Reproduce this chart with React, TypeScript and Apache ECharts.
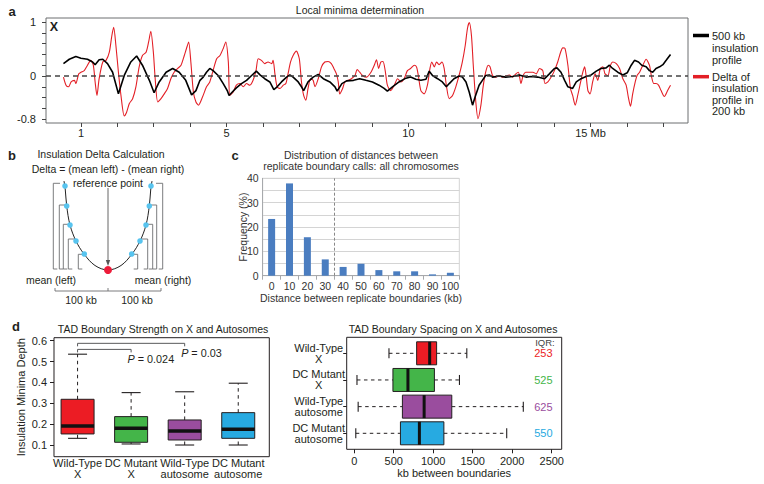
import { useEffect, useRef } from 'react';
import * as echarts from 'echarts';

const FONT = '"Liberation Sans", Arial, Helvetica, sans-serif';
const INK = '#231f20';

// ---------- Panel a: insulation profiles along chrX (Mb, value) ----------
const insulationProfile500kb: [number, number][] = [
  [0.52, 0.23], [0.68, 0.31], [0.86, 0.36], [1.0, 0.33], [1.18, 0.31], [1.32, 0.26], [1.39, 0.21], [1.5, 0.3],
  [1.6, 0.31], [1.73, 0.23], [1.87, 0.07], [2.03, -0.33], [2.19, 0.01], [2.37, 0.26], [2.53, 0.37], [2.69, 0.2],
  [2.88, -0.08], [3.01, -0.31], [3.15, -0.11], [3.34, 0.07], [3.52, 0.14], [3.7, 0.07], [3.88, -0.08], [4.04, -0.35],
  [4.16, -0.27], [4.27, -0.08], [4.36, -0.02], [4.45, 0.07], [4.54, 0.14], [4.63, 0.1], [4.77, 0.01], [4.91, -0.14],
  [5.02, -0.27], [5.07, -0.36], [5.14, -0.31], [5.27, -0.22], [5.41, -0.14], [5.55, -0.08], [5.69, 0.01], [5.82, 0.09],
  [5.92, 0.02], [6.05, -0.05], [6.19, -0.11], [6.3, -0.25], [6.39, -0.2], [6.51, -0.11], [6.65, -0.02], [6.74, 0.02],
  [6.83, -0.02], [6.97, -0.11], [7.06, -0.2], [7.12, -0.27], [7.24, -0.11], [7.38, -0.02], [7.52, 0.03], [7.66, -0.05],
  [7.84, -0.11], [7.98, -0.2], [8.04, -0.28], [8.17, -0.14], [8.3, -0.09], [8.49, -0.08], [8.66, -0.05], [8.83, -0.08],
  [9.01, -0.11], [9.19, -0.17], [9.33, -0.23], [9.42, -0.28], [9.56, -0.2], [9.74, -0.11], [9.93, -0.04], [10.06, -0.02],
  [10.2, -0.06], [10.34, -0.08], [10.48, -0.06], [10.57, 0.09], [10.66, 0.01], [10.8, -0.05], [10.93, -0.11], [11.04, -0.2],
  [11.12, -0.14], [11.25, -0.05], [11.39, 0], [11.48, -0.02], [11.58, -0.11], [11.67, -0.3], [11.76, -0.54], [11.83, -0.39],
  [11.94, -0.17], [12.03, -0.08], [12.12, 0.01], [12.22, 0.02], [12.31, -0.02], [12.49, 0], [12.67, -0.02], [12.86, -0.01],
  [13.04, 0.02], [13.23, -0.02], [13.37, -0.01], [13.55, -0.02], [13.74, -0.05], [13.87, 0.04], [14.01, 0.14], [14.08, 0.15],
  [14.19, 0.07], [14.29, -0.08], [14.38, -0.2], [14.51, -0.23], [14.61, -0.11], [14.74, -0.05], [14.88, -0.01], [15.02, 0.02],
  [15.16, 0.09], [15.29, 0.14], [15.43, 0.15], [15.52, 0.2], [15.61, 0.14], [15.75, 0.07], [15.89, 0.02], [16.01, 0.06],
  [16.12, 0.2], [16.21, 0.29], [16.32, 0.26], [16.41, 0.2], [16.53, 0.17], [16.62, 0.1], [16.71, 0.07], [16.8, 0.14],
  [16.9, 0.17], [16.99, 0.21], [17.08, 0.29], [17.2, 0.4],
];

const insulationDelta200kb: [number, number][] = [
  [0.52, -0.02], [0.59, -0.17], [0.66, -0.2], [0.73, -0.11], [0.82, -0.08], [0.86, -0.14], [0.94, 0.04], [1.0, 0.07],
  [1.09, 0.1], [1.18, 0.2], [1.27, 0.29], [1.34, 0.2], [1.39, -0.11], [1.44, -0.36], [1.5, -0.05], [1.6, 0.26],
  [1.69, 0.29], [1.78, 0.44], [1.85, 0.75], [1.9, 0.9], [1.96, 0.57], [2.03, 0.07], [2.1, -0.36], [2.19, -0.74],
  [2.25, -0.68], [2.33, -0.51], [2.42, -0.42], [2.51, -0.2], [2.6, 0.17], [2.69, 0.38], [2.79, 0.44], [2.86, 0.63],
  [2.92, 0.83], [2.99, 0.44], [3.04, -0.05], [3.11, -0.48], [3.2, -0.42], [3.29, -0.33], [3.38, -0.23], [3.47, -0.05],
  [3.56, 0.07], [3.66, 0.14], [3.75, 0.2], [3.84, 0.38], [3.9, 0.51], [3.96, 0.63], [4.02, 0.26], [4.09, -0.3],
  [4.16, -0.48], [4.23, -0.54], [4.34, -0.39], [4.45, -0.2], [4.54, -0.11], [4.63, 0.1], [4.73, 0.32], [4.82, 0.38],
  [4.91, 0.51], [4.98, 0.63], [5.05, 0.26], [5.09, -0.36], [5.18, -0.3], [5.27, -0.17], [5.37, -0.14], [5.46, -0.2],
  [5.55, -0.14], [5.64, -0.17], [5.73, -0.08], [5.81, 0.1], [5.87, 0.32], [5.96, 0.29], [6.05, 0.23], [6.14, 0.26],
  [6.24, 0.23], [6.28, 0.29], [6.33, 0.04], [6.39, -0.2], [6.47, -0.23], [6.56, -0.17], [6.63, -0.14], [6.69, 0.04],
  [6.76, 0.26], [6.83, 0.38], [6.92, 0.46], [7.0, 0.32], [7.06, -0.11], [7.12, -0.36], [7.18, -0.45], [7.24, -0.23],
  [7.31, -0.05], [7.38, -0.08], [7.43, -0.2], [7.52, -0.05], [7.61, 0.17], [7.7, 0.26], [7.79, 0.27], [7.88, 0.23],
  [7.95, 0.14], [8.02, 0.04], [8.07, -0.11], [8.11, -0.33], [8.19, -0.23], [8.25, -0.11], [8.34, -0.08], [8.43, -0.05],
  [8.53, 0.01], [8.59, 0.12], [8.66, 0.07], [8.75, 0], [8.85, -0.02], [8.97, 0.07], [9.06, 0.2], [9.12, 0.3],
  [9.18, 0.14], [9.24, 0.26], [9.3, 0.27], [9.36, 0.1], [9.42, -0.17], [9.51, -0.27], [9.61, -0.17], [9.7, -0.05],
  [9.79, -0.11], [9.88, -0.05], [9.97, 0.1], [10.06, 0.14], [10.16, 0.2], [10.22, 0.17], [10.27, 0.01], [10.34, -0.27],
  [10.43, -0.33], [10.52, -0.17], [10.59, 0.14], [10.64, 0.26], [10.71, 0.17], [10.77, 0.26], [10.84, 0.21], [10.92, 0.26],
  [10.98, 0.14], [11.04, -0.17], [11.12, -0.42], [11.21, -0.36], [11.3, -0.2], [11.39, 0.01], [11.48, 0.26], [11.56, 0.57],
  [11.62, 0.88], [11.67, 0.99], [11.73, 0.75], [11.78, 0.2], [11.85, -0.48], [11.91, -0.79], [11.99, -0.54], [12.05, -0.2],
  [12.12, 0.07], [12.19, 0.2], [12.24, 0.17], [12.31, 0.01], [12.4, -0.02], [12.49, 0.01], [12.58, -0.02], [12.67, 0],
  [12.77, 0.02], [12.86, -0.02], [12.95, 0.04], [13.02, 0.07], [13.09, -0.14], [13.15, 0.01], [13.22, 0.07], [13.28, 0.07],
  [13.42, 0.07], [13.51, 0.04], [13.6, 0.14], [13.69, 0.1], [13.75, -0.14], [13.83, -0.11], [13.92, -0.02], [14.01, 0.1],
  [14.1, 0.26], [14.18, 0.44], [14.24, 0.52], [14.3, 0.51], [14.38, 0.2], [14.45, -0.23], [14.51, -0.36], [14.58, -0.54],
  [14.65, -0.36], [14.73, -0.11], [14.79, 0.07], [14.84, 0.17], [14.88, 0.01], [14.93, -0.27], [14.99, -0.33], [15.06, -0.11],
  [15.13, 0.04], [15.2, -0.08], [15.27, 0.14], [15.34, 0.17], [15.4, 0.04], [15.48, 0.01], [15.55, 0.2], [15.61, 0.26],
  [15.71, 0.23], [15.8, 0.14], [15.89, -0.05], [15.98, -0.17], [16.04, -0.39], [16.1, -0.56], [16.16, -0.33], [16.23, -0.11],
  [16.28, 0.01], [16.35, 0.07], [16.44, 0.2], [16.53, 0.31], [16.62, 0.2], [16.68, -0.02], [16.74, -0.14], [16.8, -0.14],
  [16.87, -0.17], [16.94, -0.27], [17.03, -0.38], [17.12, -0.27], [17.2, -0.17],
];

const mbTicks = [1, 2, 3, 4, 5, 6, 7, 8, 9, 10, 11, 12, 13, 14, 15, 16, 17];
const mbLabels = [1, 5, 10, 15];
const insulationTicks = [-0.8, -0.6, -0.4, -0.2, 0, 0.2, 0.4, 0.6, 0.8, 1];
const insulationLabels = [-0.8, 0, 1];

// ---------- Panel c ----------
const distanceCategories = ['0', '10', '20', '30', '40', '50', '60', '70', '80', '90', '100'];
const distanceFrequency = [23.3, 37.9, 15.8, 6.7, 3.6, 4.9, 2.3, 1.8, 1.8, 0.55, 1.2];
const distanceBinEdges = [-0.5, 0.5, 1.5, 2.5, 3.5, 4.5, 5.5, 6.5, 7.5, 8.5, 9.5, 10.5];
const distanceCutoff = 3.5;

// ---------- Panel d ----------
const groupLabels = ['Wild-Type\nX', 'DC Mutant\nX', 'Wild-Type\nautosome', 'DC Mutant\nautosome'];
const groupColors = ['#ec1c24', '#44b549', '#9a4d9e', '#27aae1'];
const strengthTicks = [0.1, 0.2, 0.3, 0.4, 0.5, 0.6];
// [low whisker, Q1, median, Q3, high whisker]
const strengthStats = [
  [0.132, 0.153, 0.191, 0.319, 0.535],
  [0.105, 0.113, 0.18, 0.236, 0.351],
  [0.1, 0.124, 0.167, 0.22, 0.355],
  [0.1, 0.132, 0.175, 0.255, 0.396],
];
const pComparisons = [[1, 3], [1, 2]];
const pValues = ['0.03', '0.024'];
const spacingTicks = [0, 500, 1000, 1500, 2000, 2500];
const spacingStats = [
  [440, 790, 955, 1043, 1425],
  [35, 490, 680, 1015, 1332],
  [50, 610, 885, 1235, 2140],
  [20, 585, 825, 1135, 1930],
];
const spacingIQR = ['253', '525', '625', '550'];

const txt = (text: string, x: number, y: number, extra: any = {}) => ({
  type: 'text',
  x,
  y,
  silent: true,
  style: {
    text,
    fill: INK,
    fontSize: 10.5,
    fontFamily: FONT,
    align: 'center',
    verticalAlign: 'middle',
    ...extra,
  },
});

const seg = (x1: number, y1: number, x2: number, y2: number, style: any) => ({
  type: 'line',
  silent: true,
  shape: { x1, y1, x2, y2 },
  style,
});

function makeBoxRender(horizontal: boolean, half: number, capHalf: number, medianWidth: number) {
  return (params: any, api: any) => {
    const pos = api.value(0);
    const vals = [1, 2, 3, 4, 5].map((k) => api.value(k));
    const pt = (v: number) => (horizontal ? api.coord([v, pos]) : api.coord([pos, v]));
    const [pLow, pQ1, pMed, pQ3, pHigh] = vals.map(pt);
    const color = groupColors[params.dataIndex];
    const whisk = { stroke: INK, lineWidth: 1, lineDash: [3.5, 3.5] };
    const solid = { stroke: INK, lineWidth: 1.1 };
    let children: any[];
    if (horizontal) {
      const c = pMed[1];
      children = [
        seg(pLow[0], c, pQ1[0], c, whisk),
        seg(pQ3[0], c, pHigh[0], c, whisk),
        seg(pLow[0], c - capHalf, pLow[0], c + capHalf, solid),
        seg(pHigh[0], c - capHalf, pHigh[0], c + capHalf, solid),
        {
          type: 'rect',
          shape: { x: pQ1[0], y: c - half, width: pQ3[0] - pQ1[0], height: 2 * half },
          style: { fill: color, stroke: INK, lineWidth: 1 },
        },
        seg(pMed[0], c - half, pMed[0], c + half, { stroke: '#111', lineWidth: medianWidth }),
      ];
    } else {
      const c = pMed[0];
      children = [
        seg(c, pQ3[1], c, pHigh[1], whisk),
        seg(c, pLow[1], c, pQ1[1], whisk),
        seg(c - capHalf, pHigh[1], c + capHalf, pHigh[1], solid),
        seg(c - capHalf, pLow[1], c + capHalf, pLow[1], solid),
        {
          type: 'rect',
          shape: { x: c - half, y: pQ3[1], width: 2 * half, height: pQ1[1] - pQ3[1] },
          style: { fill: color, stroke: INK, lineWidth: 1 },
        },
        seg(c - half, pMed[1], c + half, pMed[1], { stroke: '#111', lineWidth: medianWidth }),
      ];
    }
    return { type: 'group', children };
  };
}

function panelBGraphic(): any[] {
  const els: any[] = [];
  const cx = 108;
  const bottom = 270;
  const left = [[64, 181], [65.3, 190], [66.7, 206], [70, 225], [76, 241], [84, 254], [95, 265.5], [cx, bottom]];
  const right = left.slice(0, -1).reverse().map(([x, y]) => [2 * cx - x, y]);
  els.push({ type: 'polyline', silent: true, shape: { points: [...left, ...right], smooth: 0.35 }, style: { stroke: '#222', lineWidth: 1, fill: 'none' } });
  const br = [
    [53.3, 183.3, 60],
    [59.3, 205, 65],
    [63.3, 224.3, 68.3],
    [68.3, 239, 75],
    [78.3, 254.3, 83.3],
  ];
  const bStyle = { stroke: '#6d6e71', lineWidth: 0.9, fill: 'none' };
  br.forEach(([xv, yt, xe]) => {
    els.push({ type: 'polyline', silent: true, shape: { points: [[xe, yt], [xv, yt], [xv, 269], [xv + 4, 269]] }, style: bStyle });
    const rxv = 2 * cx - xv;
    const rxe = 2 * cx - xe;
    els.push({ type: 'polyline', silent: true, shape: { points: [[rxe, yt], [rxv, yt], [rxv, 269], [rxv - 4, 269]] }, style: bStyle });
  });
  const dots = [[65, 186], [66.7, 206], [70, 225], [76, 241], [84.3, 254]];
  dots.forEach(([x, y]) => {
    els.push({ type: 'circle', silent: true, shape: { cx: x, cy: y, r: 2.8 }, style: { fill: '#58c4ef' } });
    els.push({ type: 'circle', silent: true, shape: { cx: 2 * cx - x, cy: y, r: 2.8 }, style: { fill: '#58c4ef' } });
  });
  els.push(seg(cx, 188, cx, 261, { stroke: '#555', lineWidth: 0.9 }));
  els.push({ type: 'polygon', silent: true, shape: { points: [[cx - 2.2, 260], [cx + 2.2, 260], [cx, 266]] }, style: { fill: '#555' } });
  els.push({ type: 'circle', silent: true, shape: { cx, cy: bottom, r: 4 }, style: { fill: '#ed1c3a' } });
  els.push(txt('b', 12, 155, { fontSize: 13, fontWeight: 'bold' }));
  els.push(txt('Insulation Delta Calculation', 101, 154));
  els.push(txt('Delta = (mean left) - (mean right)', 108, 169));
  els.push(txt('reference point', 108, 183));
  els.push(txt('mean (left)', 51, 280));
  els.push(txt('mean (right)', 163, 280));
  const sb = { stroke: '#6d6e71', lineWidth: 0.9 };
  els.push(seg(55, 291, 161, 291, sb));
  els.push(seg(55, 291, 55, 288, sb));
  els.push(seg(cx, 291, cx, 288, sb));
  els.push(seg(161, 291, 161, 288, sb));
  els.push(txt('100 kb', 81, 300));
  els.push(txt('100 kb', 137, 300));
  return els;
}

function buildOption(): any {
  const axisText = { color: INK, fontSize: 11, fontFamily: FONT };
  const graphic: any[] = [
    txt('a', 12, 11, { fontSize: 13, fontWeight: 'bold' }),
    txt('Local minima determination', 360, 10),
    txt('X', 54, 27, { fontSize: 12.5, fontWeight: 'bold' }),
    seg(693, 35.5, 709, 35.5, { stroke: '#000', lineWidth: 3.5 }),
    txt('500 kb\ninsulation\nprofile', 712, 30.5, { align: 'left', verticalAlign: 'top', fontSize: 11, lineHeight: 11.6 }),
    seg(693, 76.7, 709, 76.7, { stroke: '#e31f26', lineWidth: 3.5 }),
    txt('Delta of\ninsulation\nprofile in\n200 kb', 712, 71.5, { align: 'left', verticalAlign: 'top', fontSize: 11, lineHeight: 11.2 }),
    ...panelBGraphic(),
    txt('c', 235, 155, { fontSize: 13, fontWeight: 'bold' }),
    txt('Distribution of distances between\nreplicate boundary calls: all chromosomes', 361, 160.7, { lineHeight: 11.5, fill: '#333' }),
    txt('d', 16, 326, { fontSize: 13, fontWeight: 'bold' }),
    txt('TAD Boundary Strength on X and Autosomes', 163, 329),
    txt('TAD Boundary Spacing on X and Autosomes', 453, 329),
    txt('IQR:', 545, 342.3, { fontSize: 9.5, fill: '#444' }),
  ];

  return {
    animation: false,
    textStyle: { fontFamily: FONT },
    grid: [
      { left: 46, top: 18, width: 642, height: 105, show: true, borderColor: '#6d6e71', borderWidth: 1, backgroundColor: 'transparent' },
      { left: 262.7, top: 178.3, width: 196.6, height: 97.4, show: true, borderColor: '#d4d4d4', borderWidth: 1, backgroundColor: 'transparent' },
      { left: 54, top: 337.7, width: 215.3, height: 119, show: true, borderColor: INK, borderWidth: 1, backgroundColor: 'transparent' },
      { left: 346.7, top: 337.3, width: 215, height: 112, show: true, borderColor: INK, borderWidth: 1, backgroundColor: 'transparent' },
    ],
    xAxis: [
      {
        gridIndex: 0, type: 'value', min: 0.04, max: 17.68,
        axisLine: { show: false, onZero: false },
        axisTick: { show: true, customValues: mbTicks, length: 4, lineStyle: { color: '#444' } },
        axisLabel: { customValues: mbLabels, margin: 4, ...axisText, formatter: (v: number) => (v === 15 ? '15 Mb' : String(v)) },
        splitLine: { show: false },
      },
      {
        gridIndex: 1, type: 'value', min: -0.5, max: 10.5,
        axisLine: { show: true, onZero: false, lineStyle: { color: '#a7a9ac' } },
        axisTick: { show: true, customValues: distanceBinEdges, length: 4, lineStyle: { color: '#a7a9ac' } },
        axisLabel: { customValues: distanceCategories.map((_, i) => i), margin: 4.5, color: '#333', fontSize: 10.5, formatter: (v: number) => distanceCategories[Math.round(v)] },
        splitLine: { show: false },
        name: 'Distance between replicate boundaries (kb)', nameLocation: 'middle', nameGap: 17, nameMoveOverlap: false,
        nameTextStyle: { color: '#333', fontSize: 10.5 },
      },
      {
        gridIndex: 2, type: 'value', min: 0.56, max: 4.58,
        axisLine: { show: false, onZero: false }, axisTick: { show: false },
        axisLabel: { customValues: [1, 2, 3, 4], margin: 1, ...axisText, lineHeight: 11, formatter: (v: number) => groupLabels[Math.round(v) - 1] },
        splitLine: { show: false },
      },
      {
        gridIndex: 3, type: 'value', min: -95, max: 2626,
        axisLine: { show: false, onZero: false },
        axisTick: { show: true, customValues: spacingTicks, length: 4, lineStyle: { color: INK } },
        axisLabel: { customValues: spacingTicks, margin: 6.5, ...axisText, formatter: (v: number) => String(v) },
        splitLine: { show: false },
        name: 'kb between boundaries', nameLocation: 'middle', nameGap: 18, nameMoveOverlap: false,
        nameTextStyle: { color: INK, fontSize: 11 },
      },
    ],
    yAxis: [
      {
        gridIndex: 0, type: 'value', min: -0.87, max: 1.074,
        axisLine: { show: false, onZero: false },
        axisTick: { show: true, customValues: insulationTicks, length: 4, lineStyle: { color: '#444' } },
        axisLabel: { customValues: insulationLabels, margin: 10, ...axisText, formatter: (v: number) => String(v) },
        splitLine: { show: false },
      },
      {
        gridIndex: 1, type: 'value', min: 0, max: 40, interval: 5,
        axisLine: { show: true, onZero: false, lineStyle: { color: '#a7a9ac' } },
        axisTick: { show: false },
        axisLabel: { margin: 4, color: '#333', fontSize: 10.5, formatter: (v: number) => (v % 10 === 0 ? String(v) : '') },
        splitLine: { show: true, lineStyle: { color: '#d4d4d4', width: 1 } },
        name: 'Frequency (%)', nameLocation: 'middle', nameGap: 14.5, nameRotate: 90, nameMoveOverlap: false,
        nameTextStyle: { color: '#333', fontSize: 10.5 },
      },
      {
        gridIndex: 2, type: 'value', min: 0.044, max: 0.614,
        axisLine: { show: false, onZero: false },
        axisTick: { show: true, customValues: strengthTicks, length: 4, lineStyle: { color: INK } },
        axisLabel: { customValues: strengthTicks, margin: 7, ...axisText, formatter: (v: number) => v.toFixed(1) },
        splitLine: { show: false },
        name: 'Insulation Minima Depth', nameLocation: 'middle', nameGap: 28, nameRotate: 90, nameMoveOverlap: false,
        nameTextStyle: { color: INK, fontSize: 11 },
      },
      {
        gridIndex: 3, type: 'value', min: 0.4, max: 4.6, inverse: true,
        axisLine: { show: false, onZero: false },
        axisTick: { show: true, customValues: [1, 2, 3, 4], length: 3.5, lineStyle: { color: INK } },
        axisLabel: { customValues: [1, 2, 3, 4], margin: 28, align: 'center', ...axisText, lineHeight: 11, formatter: (v: number) => groupLabels[Math.round(v) - 1] },
        splitLine: { show: false },
      },
    ],
    series: [
      {
        type: 'line', xAxisIndex: 0, yAxisIndex: 0, data: insulationDelta200kb,
        symbol: 'none', smooth: 0.25, lineStyle: { color: '#e31f26', width: 1.1 }, silent: true, z: 2,
      },
      {
        type: 'line', xAxisIndex: 0, yAxisIndex: 0, data: insulationProfile500kb,
        symbol: 'none', lineStyle: { color: '#000', width: 1.6 }, silent: true, z: 3,
        markLine: {
          silent: true, symbol: 'none', label: { show: false },
          lineStyle: { color: '#444', width: 1.5, type: [5, 4] },
          data: [{ yAxis: 0 }],
        },
      },
      {
        type: 'bar', xAxisIndex: 1, yAxisIndex: 1,
        data: distanceFrequency.map((v, i) => [i, v]),
        barWidth: 7, itemStyle: { color: '#4a7dc0' }, silent: true,
        markLine: {
          silent: true, symbol: 'none', label: { show: false },
          lineStyle: { color: '#888', width: 1, type: [3, 2] },
          data: [{ xAxis: distanceCutoff }],
        },
      },
      {
        type: 'custom', xAxisIndex: 2, yAxisIndex: 2,
        data: strengthStats.map((s, i) => [i + 1, ...s]),
        encode: { x: 0, y: [1, 2, 3, 4, 5] },
        renderItem: makeBoxRender(false, 16.5, 9.5, 3.5),
        silent: true,
      },
      {
        type: 'custom', xAxisIndex: 2, yAxisIndex: 2,
        data: pComparisons,
        encode: { x: [0, 1] },
        silent: true,
        renderItem: (params: any, api: any) => {
          const levels = [0.587, 0.558];
          const lvl = levels[params.dataIndex];
          const a = api.coord([api.value(0), lvl]);
          const b = api.coord([api.value(1), lvl]);
          return {
            type: 'group',
            children: [
              {
                type: 'polyline',
                shape: { points: [[a[0], a[1] + 3], [a[0], a[1]], [b[0], b[1]], [b[0], b[1] + 3]] },
                style: { stroke: '#58595b', lineWidth: 1, fill: 'none' },
              },
              {
                type: 'text',
                x: b[0] - 3.5,
                y: b[1] + 9.5,
                style: {
                  text: '{i|P} = ' + pValues[params.dataIndex],
                  fill: INK, fontSize: 10.8, fontFamily: FONT,
                  align: 'left', verticalAlign: 'middle',
                  rich: { i: { fontStyle: 'italic', fontSize: 10.8, fontFamily: FONT, fill: INK } },
                },
              },
            ],
          };
        },
      },
      {
        type: 'custom', xAxisIndex: 3, yAxisIndex: 3,
        data: spacingStats.map((s, i) => [i + 1, ...s]),
        encode: { y: 0, x: [1, 2, 3, 4, 5] },
        renderItem: makeBoxRender(true, 11.5, 5, 3),
        silent: true,
      },
      {
        type: 'custom', xAxisIndex: 3, yAxisIndex: 3,
        data: spacingIQR.map((_, i) => [2394, i + 1]),
        encode: { x: 0, y: 1 },
        silent: true,
        renderItem: (params: any, api: any) => {
          const p = api.coord([api.value(0), api.value(1)]);
          return {
            type: 'text',
            x: p[0],
            y: p[1],
            style: {
              text: spacingIQR[params.dataIndex],
              fill: groupColors[params.dataIndex],
              fontSize: 11, fontFamily: FONT, align: 'center', verticalAlign: 'middle',
            },
          };
        },
      },
    ],
    graphic,
  };
}

export default function App() {
  const ref = useRef<HTMLDivElement>(null);
  useEffect(() => {
    if (!ref.current) return;
    const chart = echarts.init(ref.current, undefined, { renderer: 'svg' });
    chart.setOption(buildOption());
    return () => chart.dispose();
  }, []);
  return (
    <div
      ref={ref}
      style={{ position: 'absolute', left: 0, top: 0, width: 764, height: 484, background: '#fff' }}
    />
  );
}
